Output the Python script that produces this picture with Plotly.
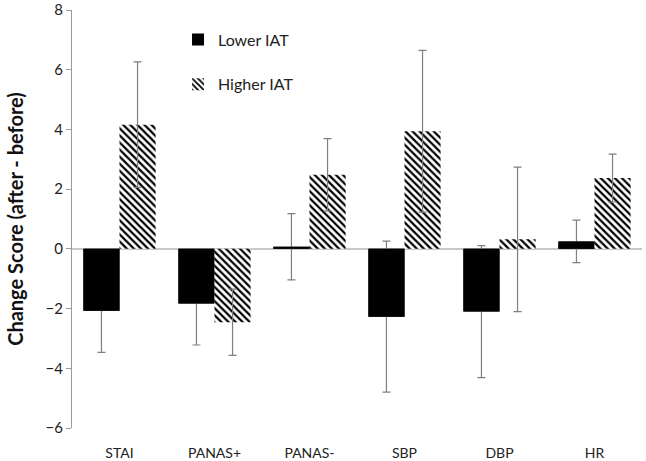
import plotly.graph_objects as go

categories = ["STAI", "PANAS+", "PANAS-", "SBP", "DBP", "HR"]
lower_iat = [-2.07, -1.83, 0.07, -2.27, -2.10, 0.25]
lower_err = [1.40, 1.39, 1.11, 2.53, 2.21, 0.71]
higher_iat = [4.16, -2.46, 2.48, 3.94, 0.32, 2.37]
higher_err = [2.10, 1.11, 1.21, 2.71, 2.42, 0.80]
y_ticks = [-6, -4, -2, 0, 2, 4, 6, 8]

FONT = "Lato, Carlito, 'Open Sans', sans-serif"
ERR_COLOR = "#7f7f7f"
BAR_W = 0.38

fig = go.Figure()
# black bars with their error bars
fig.add_trace(go.Bar(
    x=categories, y=lower_iat, name="Lower IAT",
    width=BAR_W, offset=-BAR_W,
    marker=dict(color="black", line=dict(width=0)),
    error_y=dict(type="data", array=lower_err, visible=True,
                 color=ERR_COLOR, thickness=1.2, width=4),
    legendgroup="a",
))
# same black bars drawn again on top, hiding the error line inside them
fig.add_trace(go.Bar(
    x=categories, y=lower_iat, name="Lower IAT",
    width=BAR_W, offset=-BAR_W, showlegend=False, hoverinfo="skip",
    marker=dict(color="black", line=dict(width=0)),
    legendgroup="a",
))
fig.add_trace(go.Bar(
    x=categories, y=higher_iat, name="Higher IAT",
    width=BAR_W, offset=0,
    marker=dict(color="rgba(0,0,0,0)", line=dict(width=0),
                pattern=dict(shape="\\", fgcolor="black", bgcolor="white",
                             size=5, solidity=0.45, fillmode="replace")),
    error_y=dict(type="data", array=higher_err, visible=True,
                 color=ERR_COLOR, thickness=1.2, width=4),
    legendgroup="b",
))

fig.update_layout(
    width=646, height=461,
    margin=dict(l=72, r=4, t=10, b=33),
    paper_bgcolor="white", plot_bgcolor="white",
    barmode="overlay",
    font=dict(family=FONT, size=14, color="#222"),
    showlegend=True,
    legend=dict(x=0.186, y=0.970, xanchor="left", yanchor="top",
                bgcolor="rgba(0,0,0,0)", font=dict(size=16, color="#222"),
                traceorder="grouped", tracegroupgap=21,
                itemwidth=30),
    xaxis=dict(showline=False, ticks="", showgrid=False, automargin=False,
               tickfont=dict(size=14, color="#222"),
               ticklabelstandoff=15, zeroline=False),
    yaxis=dict(range=[-6, 8], tickvals=y_ticks, showgrid=False, automargin=False,
               showline=True, linecolor="#9a9a9a", linewidth=1,
               ticks="outside", ticklen=5, tickcolor="#9a9a9a",
               zeroline=True, zerolinecolor="#c8c8c8", zerolinewidth=1.5,
               tickfont=dict(size=15, color="#222"),
               title=dict(text="<b>Change Score (after - before)</b>",
                          font=dict(size=20, color="#111"), standoff=16)),
)

fig.write_html("out.html", config={"displayModeBar": False},
               post_script="document.body.style.margin='0';document.body.style.overflow='hidden';")
